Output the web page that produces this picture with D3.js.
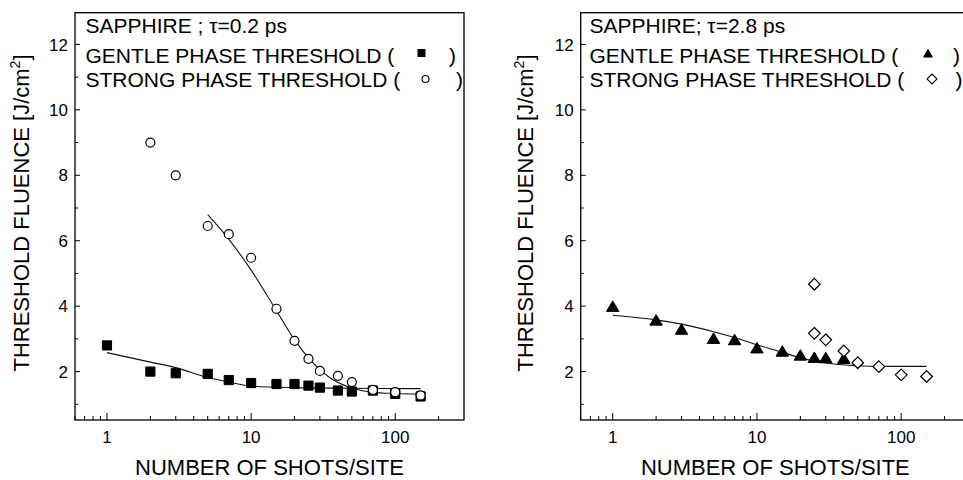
<!DOCTYPE html>
<html>
<head>
<meta charset="utf-8">
<script src="https://cdn.jsdelivr.net/npm/d3@7"></script>
<style>
  body { margin: 0; background: #fff; }
  svg { display: block; }
</style>
</head>
<body>
<svg id="chart"></svg>
<script>
// ─── data ─────────────────────────────────────────────────────

const xTickValues = [1, 10, 100];
const yTickValues = [2, 4, 6, 8, 10, 12];
const yMinorValues = [1, 3, 5, 7, 9, 11];

// tau = 0.2 ps
const gentleShots02   = [1, 2, 3, 5, 7, 10, 15, 20, 25, 30, 40, 50, 70, 100, 150];
const gentleFluence02 = [2.8, 2.0, 1.95, 1.93, 1.74, 1.65, 1.62, 1.62, 1.57, 1.51, 1.42, 1.39, 1.42, 1.32, 1.24];
const strongShots02   = [2, 3, 5, 7, 10, 15, 20, 25, 30, 40, 50, 70, 100, 150];
const strongFluence02 = [9.0, 8.0, 6.45, 6.2, 5.48, 3.92, 2.94, 2.39, 2.02, 1.87, 1.68, 1.44, 1.37, 1.27];
const gentleFitShots02   = [1, 2, 3, 5, 7, 10, 20, 50, 150];
const gentleFitFluence02 = [2.58, 2.29, 2.12, 1.82, 1.68, 1.56, 1.51, 1.49, 1.48];
const strongFitShots02   = [5, 7, 10, 15, 20, 27, 37, 50, 70, 100, 150];
const strongFitFluence02 = [6.8, 6.05, 5.1, 3.86, 2.97, 2.26, 1.75, 1.5, 1.37, 1.33, 1.31];

// tau = 2.8 ps
const gentleShots28   = [1, 2, 3, 5, 7, 10, 15, 20, 25, 30, 40];
const gentleFluence28 = [4.0, 3.58, 3.3, 3.02, 2.98, 2.73, 2.63, 2.51, 2.44, 2.43, 2.41];
const strongShots28   = [25, 25, 30, 40, 50, 70, 100, 150];
const strongFluence28 = [4.67, 3.17, 2.97, 2.63, 2.27, 2.15, 1.9, 1.85];
const fitShots28   = [1, 2, 3, 5, 7, 10, 15, 20, 25, 30, 50, 70, 150];
const fitFluence28 = [3.72, 3.58, 3.45, 3.22, 3.04, 2.82, 2.59, 2.42, 2.32, 2.26, 2.18, 2.16, 2.16];

const FONT = "'Liberation Sans', Arial, Helvetica, sans-serif";
const W = 963, H = 480;

const svg = d3.select("#chart").attr("width", W).attr("height", H);
svg.append("rect").attr("width", W).attr("height", H).attr("fill", "#fff");

const zip = (xs, ys) => xs.map((x, i) => ({ x, y: ys[i] }));

// marker shapes
function squarePath(s) { return `M${-s},${-s}H${s}V${s}H${-s}Z`; }
function trianglePath(w, h) { return `M0,${-h / 2}L${w / 2},${h / 2}L${-w / 2},${h / 2}Z`; }
function diamondPath(s) { return `M0,${-s}L${s},0L0,${s}L${-s},0Z`; }
function circlePath(r) { return `M${r},0A${r},${r} 0 1,1 ${-r},0A${r},${r} 0 1,1 ${r},0Z`; }

const panels = [
  {
    left: 75, right: 464, title: "SAPPHIRE ; \u03c4=0.2 ps", titleX: 85.5, yTitleX: 28.5,
    gentle: zip(gentleShots02, gentleFluence02),
    strong: zip(strongShots02, strongFluence02),
    fits: [zip(gentleFitShots02, gentleFitFluence02), zip(strongFitShots02, strongFitFluence02)],
    gentleMark: squarePath(4.6), gentleFill: "#000",
    strongMark: circlePath(4.5), strongFill: "#fff",
    legGentle: squarePath(4), legStrong: circlePath(3.5),
    legSymX: 421.5, legCloseX: [449, 456]
  },
  {
    left: 580.7, right: 970, title: "SAPPHIRE; \u03c4=2.8 ps", titleX: 589.5, yTitleX: 533,
    gentle: zip(gentleShots28, gentleFluence28),
    strong: zip(strongShots28, strongFluence28),
    fits: [zip(fitShots28, fitFluence28)],
    gentleMark: trianglePath(12.5, 10.5), gentleFill: "#000",
    strongMark: diamondPath(5.8), strongFill: "#fff",
    legGentle: trianglePath(10, 9), legStrong: diamondPath(5),
    legSymX: 928, legCloseX: [953, 955.5]
  }
];

const plotTop = 12.7, plotBottom = 420;

panels.forEach(p => {
  const x = d3.scaleLog().domain([0.6, 300]).range([p.left, p.right]);
  const y = d3.scaleLinear().domain([0.52, 12.97]).range([plotBottom, plotTop]);
  const g = svg.append("g");

  // frame
  g.append("rect")
    .attr("x", p.left).attr("y", plotTop)
    .attr("width", p.right - p.left).attr("height", plotBottom - plotTop)
    .attr("fill", "none").attr("stroke", "#000").attr("stroke-width", 1.3);

  // x ticks (inward)
  const xMinor = [];
  [0.1, 1, 10, 100].forEach(d => {
    for (let k = 2; k <= 9; k++) {
      const v = d * k;
      if (v > 0.6 && v < 300 && !xTickValues.includes(v)) xMinor.push(v);
    }
  });
  g.selectAll(".xminor").data(xMinor).join("line")
    .attr("x1", d => x(d)).attr("x2", d => x(d))
    .attr("y1", plotBottom).attr("y2", plotBottom - 4)
    .attr("stroke", "#000").attr("stroke-width", 1);
  g.selectAll(".xmajor").data(xTickValues).join("line")
    .attr("x1", d => x(d)).attr("x2", d => x(d))
    .attr("y1", plotBottom).attr("y2", plotBottom - 7)
    .attr("stroke", "#000").attr("stroke-width", 1);
  g.selectAll(".xlab").data(xTickValues).join("text")
    .attr("x", d => x(d)).attr("y", 443)
    .attr("text-anchor", "middle")
    .attr("font-family", FONT).attr("font-size", 17)
    .text(d => d);

  // y ticks (inward)
  g.selectAll(".yminor").data(yMinorValues).join("line")
    .attr("x1", p.left).attr("x2", p.left + 3)
    .attr("y1", d => y(d)).attr("y2", d => y(d))
    .attr("stroke", "#000").attr("stroke-width", 1);
  g.selectAll(".ymajor").data(yTickValues).join("line")
    .attr("x1", p.left).attr("x2", p.left + 5)
    .attr("y1", d => y(d)).attr("y2", d => y(d))
    .attr("stroke", "#000").attr("stroke-width", 1);
  g.selectAll(".ylab").data(yTickValues).join("text")
    .attr("x", p.left - 7).attr("y", d => y(d))
    .attr("dy", "0.36em")
    .attr("text-anchor", "end")
    .attr("font-family", FONT).attr("font-size", 17)
    .text(d => d);

  // axis titles
  g.append("text")
    .attr("x", (p.left + p.right) / 2).attr("y", 475)
    .attr("text-anchor", "middle")
    .attr("font-family", FONT).attr("font-size", 22)
    .text("NUMBER OF SHOTS/SITE");

  const yt = g.append("text")
    .attr("transform", `translate(${p.yTitleX},213) rotate(-90)`)
    .attr("text-anchor", "middle")
    .attr("font-family", FONT).attr("font-size", 22);
  yt.append("tspan").text("THRESHOLD FLUENCE [J/cm");
  yt.append("tspan").attr("dy", -9).attr("font-size", 14).text("2");
  yt.append("tspan").attr("dy", 9).text("]");

  // fit curves
  const line = d3.line().x(d => x(d.x)).y(d => y(d.y)).curve(d3.curveMonotoneX);
  p.fits.forEach(f => {
    g.append("path").datum(f)
      .attr("d", line)
      .attr("fill", "none").attr("stroke", "#111").attr("stroke-width", 1.1);
  });

  // markers
  g.selectAll(".gentle").data(p.gentle).join("path")
    .attr("transform", d => `translate(${x(d.x)},${y(d.y)})`)
    .attr("d", p.gentleMark)
    .attr("fill", p.gentleFill).attr("stroke", "#000").attr("stroke-width", 1);
  g.selectAll(".strong").data(p.strong).join("path")
    .attr("transform", d => `translate(${x(d.x)},${y(d.y)})`)
    .attr("d", p.strongMark)
    .attr("fill", p.strongFill).attr("stroke", "#000").attr("stroke-width", 1.2);

  // legend
  const leg = g.append("g").attr("font-family", FONT).attr("font-size", 21);
  leg.append("text").attr("x", p.titleX).attr("y", 33).text(p.title);
  leg.append("text").attr("x", p.titleX).attr("y", 63).text("GENTLE PHASE THRESHOLD (");
  leg.append("text").attr("x", p.titleX).attr("y", 87).text("STRONG PHASE THRESHOLD (");
  leg.append("text").attr("x", p.legCloseX[0]).attr("y", 63).text(")");
  leg.append("text").attr("x", p.legCloseX[1]).attr("y", 87).text(")");
  leg.append("path")
    .attr("transform", `translate(${p.legSymX},53)`)
    .attr("d", p.legGentle).attr("fill", "#000");
  leg.append("path")
    .attr("transform", `translate(${p.legSymX + 4},79)`)
    .attr("d", p.legStrong).attr("fill", "#fff").attr("stroke", "#000").attr("stroke-width", 1.1);
});
</script>
</body>
</html>
